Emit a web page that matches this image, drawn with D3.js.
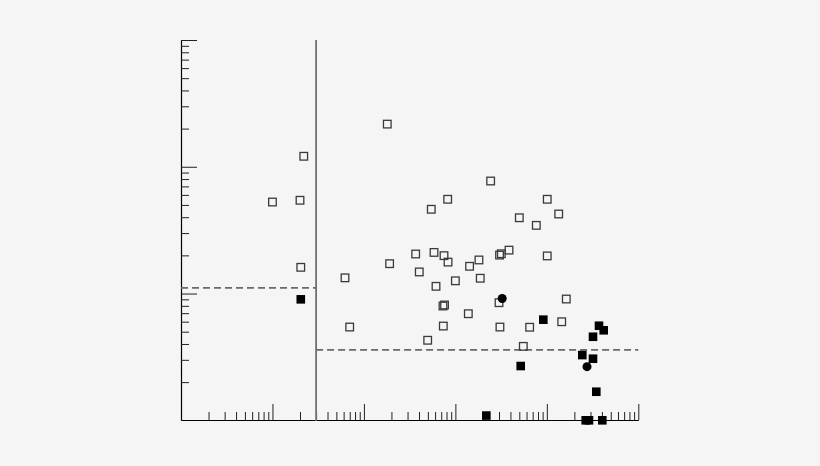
<!DOCTYPE html>
<html>
<head>
<meta charset="utf-8">
<script src="https://cdn.jsdelivr.net/npm/d3@7"></script>
<style>
  html, body { margin: 0; padding: 0; background: #f5f5f5; }
  svg { display: block; }
</style>
</head>
<body>
<svg id="chart" width="820" height="466"></svg>
<script>
// ---- data (log-log axes, no tick labels) ----
const xDomain = [0.1, 10000];
const yDomain = [1, 1000];

// open squares
const openX = [18.0, 2.2, 243, 1.0, 2.0, 82.4, 54.5, 1010, 1348, 500, 767, 36.8, 58.4, 75.1, 83.1,
  19.1, 40.3, 6.21, 61.4, 100, 143, 181, 187, 318, 304, 386, 1010, 2.04, 73.2, 76.1, 138.5, 300,
  1632, 6.99, 73.8, 307, 649, 1454, 49.8, 553];
const openY = [217, 121, 77.2, 52.7, 54.4, 55.4, 46.2, 55.4, 42.4, 39.6, 34.5, 20.5, 21.1, 19.9, 17.7,
  17.2, 14.8, 13.3, 11.4, 12.6, 16.4, 18.4, 13.2, 20.6, 20.1, 22.0, 19.8, 16.1, 7.97, 8.12, 6.93, 8.47,
  9.05, 5.44, 5.54, 5.44, 5.42, 5.99, 4.28, 3.83];

// filled squares
const filledX = [2.04, 915, 518, 3718, 4184, 3197, 2442, 3197, 3473, 218, 2660, 2891, 4040];
const filledY = [9.0, 6.22, 2.68, 5.57, 5.13, 4.56, 3.27, 3.06, 1.68, 1.09, 1, 1, 1];

// filled circles
const circleX = [325, 2749];
const circleY = [9.14, 2.65];

// reference lines
const splitX = 3;            // vertical divider
const leftThreshold = 11.1;  // dashed, left of divider
const rightThreshold = 3.6;  // dashed, right of divider

// ---- drawing ----
const svg = d3.select("#chart");
const x = d3.scaleLog().domain(xDomain).range([181, 638.3]);
const y = d3.scaleLog().domain(yDomain).range([420.3, 40]);

const isMajor = v => Math.abs(Math.log10(v) - Math.round(Math.log10(v))) < 1e-9;
const xTicks = x.ticks();
const yTicks = y.ticks();
const xMinor = xTicks.filter(v => !isMajor(v));
const xMajor = xTicks.filter(v => isMajor(v) && v > xDomain[0]);
const yMinor = yTicks.filter(v => !isMajor(v));
const yMajor = yTicks.filter(v => isMajor(v) && v > yDomain[0]);

const tickColor = "#222";

// x axis (ticks point up, into plot)
const gx = svg.append("g").attr("transform", "translate(0,420)");
gx.call(d3.axisBottom(x).tickValues(xMinor).tickSizeInner(-8).tickSizeOuter(0).tickFormat(""));
const gx2 = svg.append("g").attr("transform", "translate(0,420)");
gx2.call(d3.axisBottom(x).tickValues(xMajor).tickSizeInner(-16).tickSizeOuter(0).tickFormat(""));
gx2.select(".domain").remove();

// y axis (ticks point right, into plot)
const gy = svg.append("g").attr("transform", "translate(181,0)");
gy.call(d3.axisLeft(y).tickValues(yMinor).tickSizeInner(-8).tickSizeOuter(0).tickFormat(""));
const gy2 = svg.append("g").attr("transform", "translate(181,0)");
gy2.call(d3.axisLeft(y).tickValues(yMajor).tickSizeInner(-16).tickSizeOuter(0).tickFormat(""));
gy2.select(".domain").remove();

svg.selectAll(".domain").attr("stroke", "#000").attr("stroke-width", 1.2);
svg.selectAll(".tick line").attr("stroke", tickColor).attr("stroke-width", 1);

// vertical divider
svg.append("line")
  .attr("x1", x(splitX)).attr("x2", x(splitX))
  .attr("y1", y(yDomain[1])).attr("y2", y(yDomain[0]) + 0.7)
  .attr("stroke", "#707070").attr("stroke-width", 1.8);

// dashed thresholds
svg.append("line")
  .attr("x1", x(xDomain[0])).attr("x2", x(splitX))
  .attr("y1", y(leftThreshold)).attr("y2", y(leftThreshold))
  .attr("stroke", "#6a6a6a").attr("stroke-width", 1.7).attr("stroke-dasharray", "7,4");
svg.append("line")
  .attr("x1", x(splitX)).attr("x2", x(xDomain[1]))
  .attr("y1", y(rightThreshold)).attr("y2", y(rightThreshold))
  .attr("stroke", "#6a6a6a").attr("stroke-width", 1.7).attr("stroke-dasharray", "7,4");

// points
const s = 7.6;
const openData = openX.map((v, i) => ({x: v, y: openY[i]}));
const filledData = filledX.map((v, i) => ({x: v, y: filledY[i]}));
const circleData = circleX.map((v, i) => ({x: v, y: circleY[i]}));

svg.append("g").selectAll("rect").data(openData).join("rect")
  .attr("x", d => x(d.x) - s / 2).attr("y", d => y(d.y) - s / 2)
  .attr("width", s).attr("height", s)
  .attr("fill", "none").attr("stroke", "#3a3a3a").attr("stroke-width", 1.3);

svg.append("g").selectAll("rect").data(filledData).join("rect")
  .attr("x", d => x(d.x) - 4.3).attr("y", d => y(d.y) - 4.3)
  .attr("width", 8.6).attr("height", 8.6)
  .attr("fill", "#000");

svg.append("g").selectAll("circle").data(circleData).join("circle")
  .attr("cx", d => x(d.x)).attr("cy", d => y(d.y))
  .attr("r", 4.5).attr("fill", "#000");
</script>
</body>
</html>
